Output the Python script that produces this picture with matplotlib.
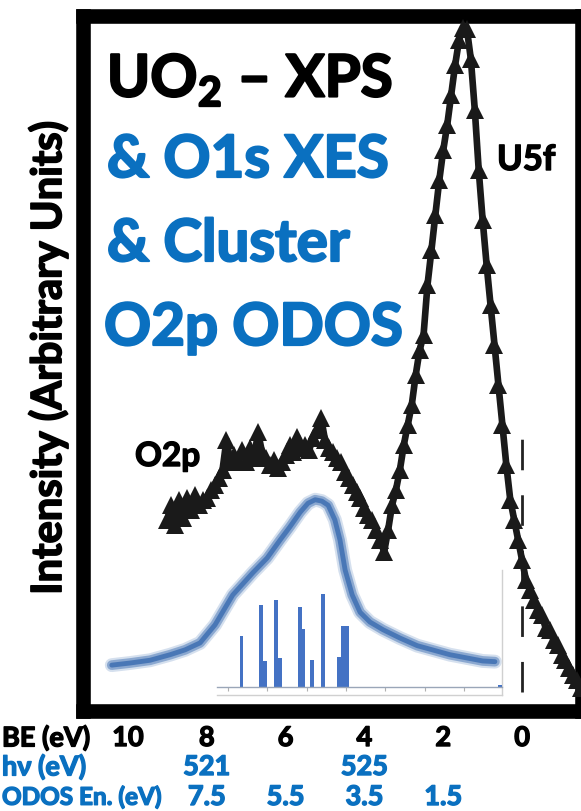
import matplotlib.pyplot as plt
import matplotlib.transforms as mtransforms
import matplotlib.patheffects as pe
import numpy as np

plt.rcParams['font.family'] = ['Lato', 'DejaVu Sans']
plt.rcParams['mathtext.fontset'] = 'custom'
plt.rcParams['mathtext.rm'] = 'Lato'
plt.rcParams['mathtext.bf'] = 'Lato:bold'

# --- XPS valence band (binding energy, eV) ---
xps_be = np.round(np.arange(9.0, -1.55, -0.1), 2)
xps_int = [
    27.5, 29.6, 26.8, 30.4, 27.8, 30.6, 28.9, 31.1, 29.6, 30.4,
    30.6, 31.8, 32.5, 33.5, 34.7, 39.0, 35.8, 36.8, 36.1, 37.6,
    35.8, 37.8, 36.4, 40.1, 37.3, 36.4, 35.4, 36.1, 35.0, 35.8,
    36.8, 38.3, 37.3, 39.4, 37.8, 38.3, 37.6, 39.3, 40.4, 42.2,
    39.0, 37.8, 37.3, 36.4, 35.8, 34.4, 33.5, 32.5, 31.5, 30.6,
    29.2, 28.2, 27.5, 26.0, 24.6, 22.9,
    26.0, 29.6, 31.8, 34.7, 38.3, 41.2, 44.0, 48.3, 51.9, 54.1,
    61.3, 66.3, 71.4, 76.4, 80.7, 84.3, 88.6, 92.9, 96.5, 98.3,
    98.1, 93.8, 86.5, 77.8, 70.6, 64.2, 58.4, 52.7, 46.9, 41.2,
    35.4, 30.4, 27.5, 24.6, 21.7, 18.8, 17.4, 16.0, 14.5, 13.8,
    11.9, 11.7, 10.2, 9.5, 8.1, 7.3, 6.2, 5.2, 4.5, 3.3,
]

# --- O1s XES on the BE scale ---
xes_be = [10.41, 9.95, 9.44, 8.93, 8.55, 8.17, 7.79, 7.34, 6.83, 6.47,
          6.14, 5.89, 5.63, 5.43, 5.25, 5.08, 4.92, 4.75, 4.62, 4.49,
          4.31, 4.11, 3.86, 3.53, 3.10, 2.66, 1.83, 1.00, 0.69]
xes_int = [6.6, 6.9, 7.3, 8.1, 8.8, 9.8, 12.4, 16.7, 19.9, 22.0,
           24.6, 26.5, 28.6, 29.9, 30.4, 30.2, 29.6, 27.5, 24.6, 20.3,
           16.7, 14.2, 12.8, 11.7, 10.5, 9.4, 8.1, 7.2, 7.1]

# --- cluster O2p ODOS levels ---
odos_en = [6.65, 6.16, 6.05, 5.77, 5.67, 5.17, 5.09, 4.87, 4.58, 4.18, 4.07, 3.97, 0.10]
odos_wt = [0.52, 0.84, 0.27, 0.89, 0.30, 0.82, 0.60, 0.28, 0.95, 0.31, 0.63, 0.63, 0.02]

be_ticks = [10, 8, 6, 4, 2, 0]
hv_ticks = [521, 525]
odos_ticks = [7.5, 5.5, 3.5, 1.5]
HV_OFFSET = 529.0     # hv = HV_OFFSET - BE
ODOS_SHIFT = 0.5      # ODOS energy = BE - ODOS_SHIFT

W, H = 581, 811
BLUE_TXT = '#0a70c0'
BLUE_CURVE = '#4272b4'
BAR_BLUE = '#4472c4'


def fx(px):
    return px / W


def fy(py):
    return 1 - py / H


def heavy(color, w=1.6):
    return [pe.withStroke(linewidth=w, foreground=color)]


fig = plt.figure(figsize=(W / 100, H / 100), dpi=100)
ax = fig.add_axes([fx(83), fy(711), (582 - 83) / W, (711 - 16) / H])
ax.set_xlim(11.14, -1.52)
ax.set_ylim(0, 100)

for spine in ax.spines.values():
    spine.set_linewidth(10.5)
    spine.set_capstyle('projecting')
ax.set_yticks([])
ax.set_xticks(be_ticks)
ax.tick_params(axis='x', direction='in', length=4, width=2, labelbottom=False)

# O1s XES, soft thick band
ax.plot(xes_be, xes_int, color=BLUE_CURVE, lw=10, alpha=0.22, solid_capstyle='round', zorder=2)
ax.plot(xes_be, xes_int, color=BLUE_CURVE, lw=7, alpha=0.5, solid_capstyle='round', zorder=2)
ax.plot(xes_be, xes_int, color=BLUE_CURVE, lw=3.5, alpha=0.9, solid_capstyle='round', zorder=2)

# XPS with triangle markers
ax.plot(xps_be, xps_int, color='#1a1a1a', lw=4.8, marker='^', ms=12.5,
        markeredgewidth=0, zorder=3)

# Fermi level
ax.vlines(0, 2.7, 41.4, colors='#222222', lw=2, linestyles=(0, (11, 9)), zorder=1)

# inset frame and ODOS bars
frame = fig.add_axes([fx(217), fy(695), (502 - 217) / W, (695 - 570) / H])
frame.patch.set_alpha(0)
frame.set_xticks([])
frame.set_yticks([])
for side in ['top', 'left']:
    frame.spines[side].set_visible(False)
for side in ['right', 'bottom']:
    frame.spines[side].set_color('#d0d0d0')
    frame.spines[side].set_linewidth(1)

ins = fig.add_axes([fx(217), fy(687), (502 - 217) / W, (687 - 570) / H])
ins.patch.set_alpha(0)
ins.set_xlim(7.5 - (217 - 208) / 39.4, 7.5 - (502 - 208) / 39.4)
ins.set_ylim(0, 1.2)
ins.bar(odos_en, odos_wt, width=0.1, color=BAR_BLUE)
for side in ['top', 'left', 'right']:
    ins.spines[side].set_visible(False)
ins.spines['bottom'].set_color('#9aa6b8')
ins.spines['bottom'].set_linewidth(1)
ins.set_yticks([])
ins.set_xticks([7, 6, 5, 4, 3, 2, 1])
ins.tick_params(axis='x', direction='out', length=3, width=0.8, color='#b0b0b0', labelbottom=False)

# titles
title_kw = dict(fontsize=42, fontweight='bold')
fig.text(fx(107), fy(97), r'UO$_\mathbf{2}$ – XPS', color='black',
         path_effects=heavy('black'), **title_kw)
fig.text(fx(107), fy(177), '& O1s XES', color=BLUE_TXT, path_effects=heavy(BLUE_TXT), **title_kw)
fig.text(fx(107), fy(261), '& Cluster', color=BLUE_TXT, path_effects=heavy(BLUE_TXT), **title_kw)
fig.text(fx(104), fy(345), 'O2p ODOS', color=BLUE_TXT, path_effects=heavy(BLUE_TXT), **title_kw)

fig.text(fx(497), fy(170), 'U5f', fontsize=25, fontweight='bold', path_effects=heavy('black', 1))
fig.text(fx(135), fy(466), 'O2p', fontsize=24, fontweight='bold', path_effects=heavy('black', 1))

fig.text(fx(48), fy(358), 'Intensity (Arbitrary Units)', rotation=90, fontsize=30,
         fontweight='bold', ha='center', va='center', path_effects=heavy('black', 1.2))

# energy scale rows under the frame
trans = mtransforms.blended_transform_factory(ax.transData, fig.transFigure)
row_y = [fy(738), fy(767), fy(797)]
row_kw = dict(fontsize=19.5, fontweight='bold', va='center')
fig.text(fx(2), row_y[0], 'BE (eV)', path_effects=heavy('black', 1), **row_kw)
fig.text(fx(2), row_y[1], 'hν (eV)', color=BLUE_TXT, path_effects=heavy(BLUE_TXT, 1), **row_kw)
fig.text(fx(2), row_y[2], 'ODOS En. (eV)', color=BLUE_TXT, path_effects=heavy(BLUE_TXT, 1),
         fontsize=17.5, fontweight='bold', va='center')
for v in be_ticks:
    ax.text(v, row_y[0], str(v), transform=trans, ha='center', clip_on=False,
            path_effects=heavy('black', 1), **row_kw)
for v in hv_ticks:
    ax.text(HV_OFFSET - v, row_y[1], str(v), transform=trans, ha='center', color=BLUE_TXT,
            clip_on=False, path_effects=heavy(BLUE_TXT, 1), **row_kw)
for v in odos_ticks:
    ax.text(v + ODOS_SHIFT, row_y[2], str(v), transform=trans, ha='center', color=BLUE_TXT,
            clip_on=False, path_effects=heavy(BLUE_TXT, 1), **row_kw)

fig.savefig('out.png', dpi=100)
